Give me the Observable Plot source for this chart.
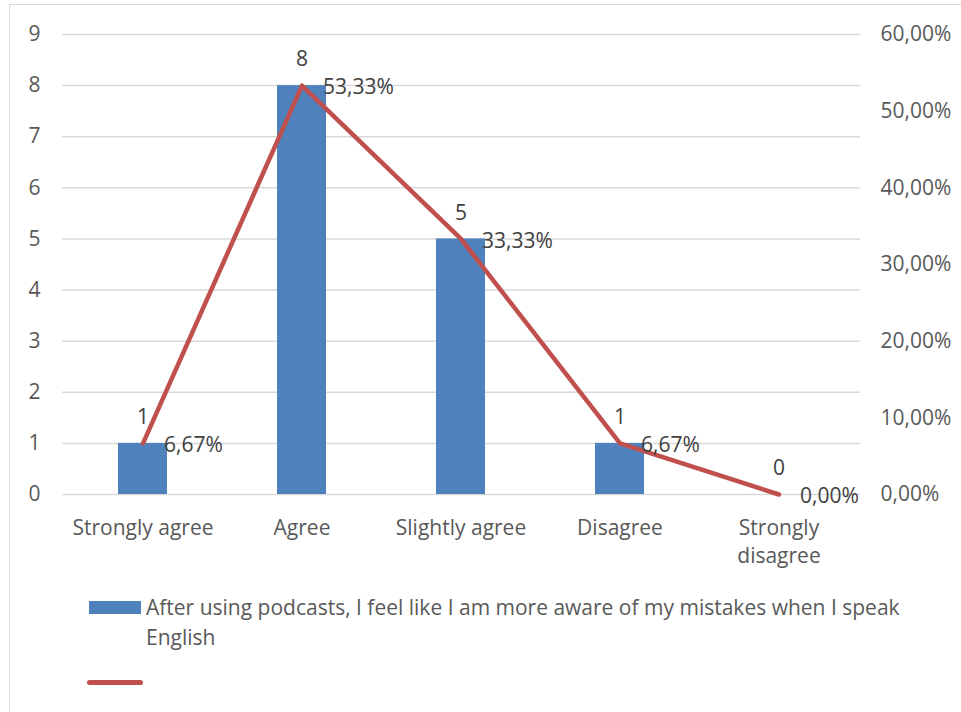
<!DOCTYPE html>
<html>
<head>
<meta charset="utf-8">
<script src="https://cdn.jsdelivr.net/npm/d3@7"></script>
<script src="https://cdn.jsdelivr.net/npm/@observablehq/plot@0.6"></script>
<style>
  body { margin: 0; background: #fff; font-family: "Open Sans", sans-serif; }
  #frame { position: absolute; left: 9px; top: 4px; width: 980px; height: 740px; border: 1.5px solid #d9d9d9; box-sizing: border-box; }
  #chart { position: absolute; left: 0; top: 0; }
  #legend { position: absolute; left: 0; top: 0; width: 961px; color: #595959; font-size: 21px; }
  .swatch-bar { position: absolute; left: 89px; top: 601px; width: 52px; height: 13px; background: #4F81BD; }
  .legend-text { position: absolute; left: 146px; top: 592px; width: 765px; line-height: 30px; }
  .swatch-line { position: absolute; left: 87px; top: 680px; width: 56px; height: 5px; border-radius: 3px; background: #C0504D; }
</style>
</head>
<body>
<div id="frame"></div>
<div id="chart"></div>
<div id="legend">
  <div class="swatch-bar"></div>
  <div class="legend-text">After using podcasts, I feel like I am more aware of my mistakes when I speak English</div>
  <div class="swatch-line"></div>
</div>
<script>
// Survey responses: number of students and share of the 15 respondents
const categories = ["Strongly agree", "Agree", "Slightly agree", "Disagree", "Strongly disagree"];
const counts = [1, 8, 5, 1, 0];
const percents = [6.67, 53.33, 33.33, 6.67, 0.00];
const countTicks = [0, 1, 2, 3, 4, 5, 6, 7, 8, 9];
const percentTicks = [0, 10, 20, 30, 40, 50, 60];

// The percentage axis (0–60 %) shares the plot with the count axis (0–9)
const pctToCount = 9 / 60;
const fmtPct = p => p.toFixed(2).replace(".", ",") + "%";

const rows = categories.map((c, i) => ({category: c, count: counts[i], pct: percents[i]}));

const textColor = "#595959";
const labelColor = "#404040";
const fs = 21;

const chart = Plot.plot({
  width: 961,
  height: 570,
  marginTop: 34,
  marginLeft: 62,
  marginRight: 101,
  marginBottom: 76,
  style: {fontFamily: "Open Sans, sans-serif", fontSize: fs + "px", color: textColor, background: "transparent"},
  x: {domain: categories, paddingInner: 0.69, paddingOuter: 0.345, label: null},
  y: {domain: [0, 9], label: null},
  marks: [
    Plot.gridY(countTicks, {stroke: "#d9d9d9", strokeOpacity: 1, strokeWidth: 1.5}),
    Plot.barY(rows, {x: "category", y: "count", fill: "#4F81BD"}),
    Plot.line(rows, {
      x: "category", y: d => d.pct * pctToCount,
      stroke: "#C0504D", strokeWidth: 4.5, strokeLinejoin: "round", strokeLinecap: "round"
    }),
    Plot.text(rows, {
      x: "category", y: "count", text: d => String(d.count),
      dy: -26, fill: labelColor, fontSize: fs
    }),
    Plot.text(rows, {
      x: "category", y: d => d.pct * pctToCount, text: d => fmtPct(d.pct),
      textAnchor: "start", dx: 21, dy: 2, fill: labelColor, fontSize: fs
    }),
    Plot.axisY(countTicks, {
      anchor: "left", tickSize: 0, tickPadding: 22, fill: textColor, fontSize: fs,
      tickFormat: d => String(d)
    }),
    Plot.axisY(percentTicks.map(p => p * pctToCount), {
      anchor: "right", tickSize: 0, tickPadding: 20, fill: textColor, fontSize: fs,
      tickFormat: v => fmtPct(v / pctToCount)
    }),
    Plot.axisX({
      anchor: "bottom", tickSize: 0, tickPadding: 20, fill: textColor, fontSize: fs,
      lineHeight: 1.35, lineAnchor: "top",
      tickFormat: d => d === "Strongly disagree" ? "Strongly\ndisagree" : d
    })
  ]
});

document.getElementById("chart").append(chart);
</script>
</body>
</html>
